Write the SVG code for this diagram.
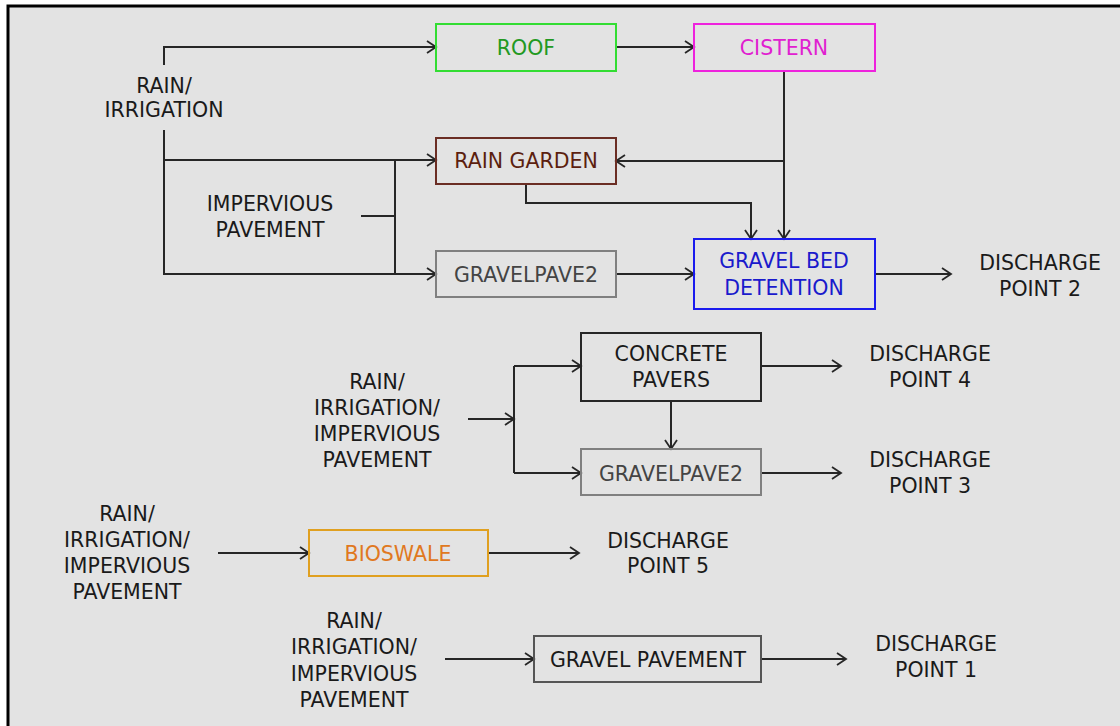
<svg xmlns="http://www.w3.org/2000/svg" width="1120" height="726" viewBox="0 0 1120 726">
<style>
  text { font-family: "DejaVu Sans", "Liberation Sans", sans-serif; font-size: 20.5px; fill: #1a1a1a; text-anchor: middle; }
  .box { fill: none; stroke-width: 2; }
  .conn path { fill: none; stroke: #262626; stroke-width: 2; }
</style>
<defs>
  <marker id="arr" markerUnits="userSpaceOnUse" markerWidth="12" markerHeight="14" refX="10" refY="7" orient="auto">
    <path d="M1,1 L10,7 L1,13" fill="none" stroke="#262626" stroke-width="1.8"/>
  </marker>
</defs>
<rect x="0" y="0" width="1120" height="726" fill="#ffffff"/>
<rect x="8" y="6" width="1200" height="800" fill="#e3e3e3" stroke="#000000" stroke-width="3"/>

<g class="conn" id="connectors">
  <path d="M164,65 V47 H436" marker-end="url(#arr)"/>
  <path d="M164,130 V274 H436" marker-end="url(#arr)"/>
  <path d="M164,160 H436" marker-end="url(#arr)"/>
  <path d="M361,216 H395"/>
  <path d="M395,160 V274"/>
  <path d="M616,47 H694" marker-end="url(#arr)"/>
  <path d="M784,71 V239" marker-end="url(#arr)"/>
  <path d="M784,161 H616" marker-end="url(#arr)"/>
  <path d="M526,184 V203 H751 V239" marker-end="url(#arr)"/>
  <path d="M616,274 H694" marker-end="url(#arr)"/>
  <path d="M875,274 H951" marker-end="url(#arr)"/>
  <path d="M468,419 H514" marker-end="url(#arr)"/>
  <path d="M514,366 V473"/>
  <path d="M514,366 H581" marker-end="url(#arr)"/>
  <path d="M514,473 H581" marker-end="url(#arr)"/>
  <path d="M671,401 V449" marker-end="url(#arr)"/>
  <path d="M761,366 H841" marker-end="url(#arr)"/>
  <path d="M761,473 H841" marker-end="url(#arr)"/>
  <path d="M218,553 H309" marker-end="url(#arr)"/>
  <path d="M488,553 H579" marker-end="url(#arr)"/>
  <path d="M445,659 H534" marker-end="url(#arr)"/>
  <path d="M761,659 H846" marker-end="url(#arr)"/>
</g>

<g id="rain-top">
  <text x="164" y="93">RAIN/</text>
  <text x="164" y="117">IRRIGATION</text>
</g>
<g id="impervious-top">
  <text x="270" y="211">IMPERVIOUS</text>
  <text x="270" y="237">PAVEMENT</text>
</g>
<g id="roof">
  <rect class="box" x="436" y="24" width="180" height="47" stroke="#33dd33"/>
  <text x="526" y="55" style="fill:#229922">ROOF</text>
</g>
<g id="cistern">
  <rect class="box" x="694" y="24" width="181" height="47" stroke="#ee22dd"/>
  <text x="784" y="55" style="fill:#e020d0">CISTERN</text>
</g>
<g id="rain-garden">
  <rect class="box" x="436" y="138" width="180" height="46" stroke="#6b2e24"/>
  <text x="526" y="168" style="fill:#5c1f0f">RAIN GARDEN</text>
</g>
<g id="gravelpave2-top">
  <rect class="box" x="436" y="251" width="180" height="46" stroke="#808080"/>
  <text x="526" y="282" style="fill:#444444">GRAVELPAVE2</text>
</g>
<g id="gravel-bed">
  <rect class="box" x="694" y="239" width="181" height="70" stroke="#1a1aee"/>
  <text x="784" y="268" style="fill:#1a1acc">GRAVEL BED</text>
  <text x="784" y="295" style="fill:#1a1acc">DETENTION</text>
</g>
<g id="dp2">
  <text x="1040" y="270">DISCHARGE</text>
  <text x="1040" y="296">POINT 2</text>
</g>

<g id="rain-mid">
  <text x="377" y="389">RAIN/</text>
  <text x="377" y="415">IRRIGATION/</text>
  <text x="377" y="441">IMPERVIOUS</text>
  <text x="377" y="467">PAVEMENT</text>
</g>
<g id="concrete-pavers">
  <rect class="box" x="581" y="333" width="180" height="68" stroke="#262626"/>
  <text x="671" y="361">CONCRETE</text>
  <text x="671" y="387">PAVERS</text>
</g>
<g id="gravelpave2-mid">
  <rect class="box" x="581" y="449" width="180" height="46" stroke="#808080"/>
  <text x="671" y="481" style="fill:#444444">GRAVELPAVE2</text>
</g>
<g id="dp4">
  <text x="930" y="361">DISCHARGE</text>
  <text x="930" y="387">POINT 4</text>
</g>
<g id="dp3">
  <text x="930" y="467">DISCHARGE</text>
  <text x="930" y="493">POINT 3</text>
</g>

<g id="rain-bioswale">
  <text x="127" y="521">RAIN/</text>
  <text x="127" y="547">IRRIGATION/</text>
  <text x="127" y="573">IMPERVIOUS</text>
  <text x="127" y="599">PAVEMENT</text>
</g>
<g id="bioswale">
  <rect class="box" x="309" y="530" width="179" height="46" stroke="#e0a020"/>
  <text x="398" y="561" style="fill:#e07820">BIOSWALE</text>
</g>
<g id="dp5">
  <text x="668" y="548">DISCHARGE</text>
  <text x="668" y="573">POINT 5</text>
</g>

<g id="rain-gravel">
  <text x="354" y="628">RAIN/</text>
  <text x="354" y="654">IRRIGATION/</text>
  <text x="354" y="681">IMPERVIOUS</text>
  <text x="354" y="707">PAVEMENT</text>
</g>
<g id="gravel-pavement">
  <rect class="box" x="534" y="636" width="227" height="46" stroke="#555555"/>
  <text x="648" y="667">GRAVEL PAVEMENT</text>
</g>
<g id="dp1">
  <text x="936" y="651">DISCHARGE</text>
  <text x="936" y="677">POINT 1</text>
</g>
</svg>
